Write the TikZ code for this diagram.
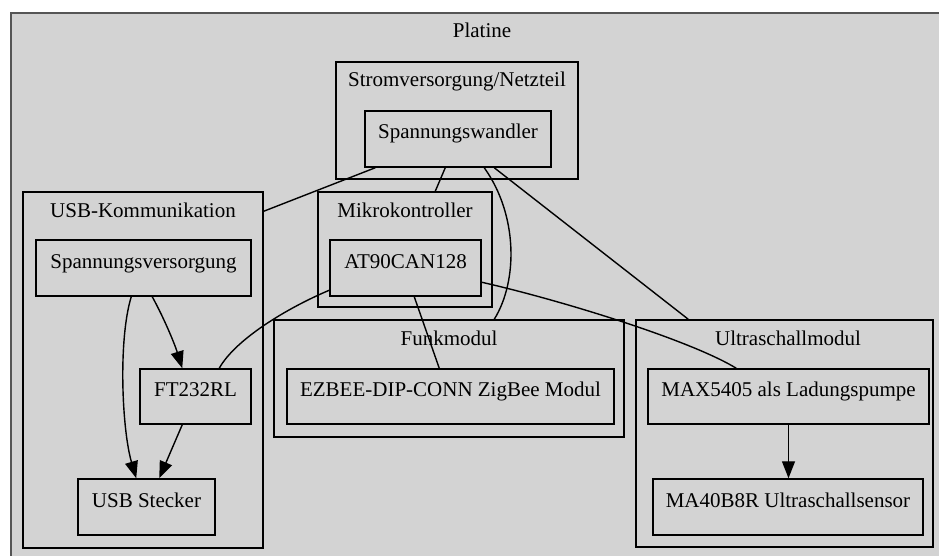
\documentclass[tikz,border=0pt]{standalone}
\usepackage{fontspec}
\setmainfont{Liberation Serif}
\usetikzlibrary{arrows.meta}
\definecolor{bggray}{RGB}{211,211,211}
\definecolor{framegray}{RGB}{85,85,85}
\begin{document}
\begin{tikzpicture}[x=1pt,y=-1pt,
  every node/.style={font=\fontsize{21}{25}\selectfont},
  box/.style={draw=black,line width=1.5pt,rectangle,inner sep=0pt,text height=15pt,text depth=15pt},
  cluster/.style={draw=black,line width=1.5pt,rectangle,inner sep=0pt},
  ctitle/.style={anchor=base,inner sep=0pt},
  link/.style={draw=black,line width=1.4pt},
  arr/.style={link,-{Triangle[length=17pt,width=13pt]}}]
\useasboundingbox (0,0) rectangle (939,556);
\clip (0,0) rectangle (939,556);
\fill[white] (0,0) rectangle (939,556);
% outer cluster
\node[draw=framegray,fill=bggray,line width=2pt,rectangle,inner sep=0pt,minimum width=939pt,minimum height=557pt] (platine) at (480.5,291.5) {};
\node[ctitle] (platinelbl) at (482,38) {Platine};
% clusters
\node[cluster,minimum width=242pt,minimum height=117pt] (strom) at (457,120.5) {};
\node[ctitle] (stromlbl) at (457,87) {Stromversorgung/Netzteil};
\node[cluster,minimum width=240pt,minimum height=356pt] (usbk) at (143,370) {};
\node[ctitle] (usbklbl) at (143,217) {USB-Kommunikation};
\node[cluster,minimum width=174pt,minimum height=115pt] (mk) at (405,249.5) {};
\node[ctitle] (mklbl) at (405,217) {Mikrokontroller};
\node[cluster,minimum width=350pt,minimum height=117pt] (funk) at (449,378.5) {};
\node[ctitle] (funklbl) at (449,345) {Funkmodul};
\node[cluster,minimum width=297pt,minimum height=227pt] (ultra) at (784.5,433.5) {};
\node[ctitle] (ultralbl) at (788,345) {Ultraschallmodul};
% nodes
\node[box,minimum width=186pt,minimum height=56pt] (sw) at (458,139) {Spannungswandler};
\node[box,minimum width=215pt,minimum height=56pt] (sv) at (143.5,268) {Spannungsversorgung};
\node[box,minimum width=111pt,minimum height=55pt] (ft) at (195.5,396.5) {FT232RL};
\node[box,minimum width=137pt,minimum height=56pt] (usbs) at (146.5,507) {USB Stecker};
\node[box,minimum width=151pt,minimum height=56pt] (at) at (405.5,268) {AT90CAN128};
\node[box,minimum width=327pt,minimum height=55pt] (ez) at (450.5,396.5) {EZBEE-DIP-CONN ZigBee Modul};
\node[box,minimum width=281pt,minimum height=55pt] (max) at (788.5,396.5) {MAX5405 als Ladungspumpe};
\node[box,minimum width=270pt,minimum height=56pt] (ma) at (788,507) {MA40B8R Ultraschallsensor};
% connectors
\draw[link] ([xshift=11pt]sw.south west) -- ([yshift=-20pt]usbk.north east);
\draw[link] ([xshift=81pt]sw.south west) -- ([xshift=118pt]mk.north west);
\draw[link] ([xshift=120pt]sw.south west) .. controls (518,215) and (518,281) .. ([xshift=221pt]funk.north west);
\draw[link] ([xshift=130pt]sw.south west) -- ([xshift=53pt]ultra.north west);
\draw[link] ([yshift=-51pt]at.north west) .. controls (285,309) and (235,340) .. ([xshift=80pt]ft.north west);
\draw[link] ([xshift=85pt]at.south west) -- ([xshift=153pt]ez.north west);
\draw[link] ([yshift=-43pt]at.north east) .. controls (560,300) and (690,340) .. ([xshift=89pt]max.north west);
\draw[arr] ([xshift=117pt]sv.south west) .. controls (165,320) and (175,345) .. ([xshift=43pt]ft.north west);
\draw[arr] ([xshift=96pt]sv.south west) .. controls (118,340) and (122,430) .. ([xshift=59pt]usbs.north west);
\draw[arr] ([xshift=43pt]ft.south west) -- ([xshift=82pt]usbs.north west);
\draw[arr] (max.south) -- (max.south |- ma.north);
\end{tikzpicture}
\end{document}
